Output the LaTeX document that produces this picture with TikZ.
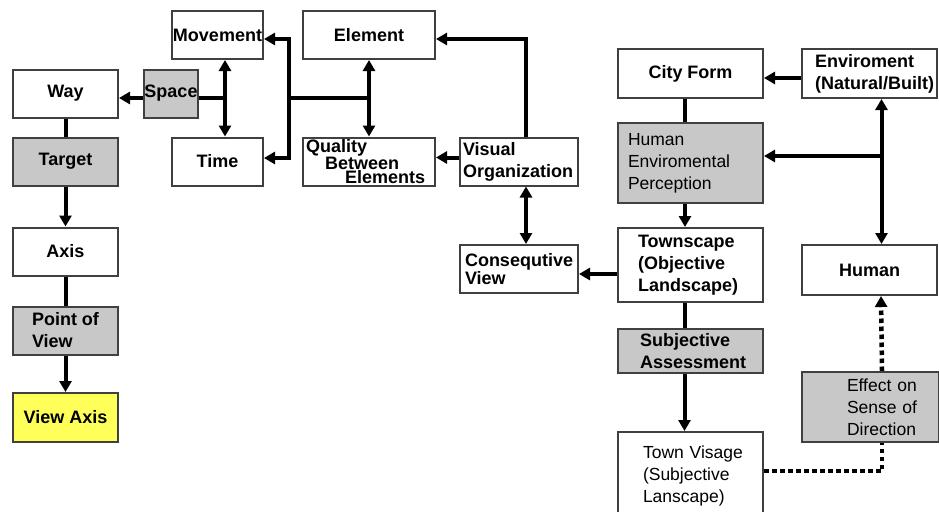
\documentclass[tikz,border=0pt]{standalone}
\usepackage{fontspec}
\setmainfont{Liberation Sans}
\usetikzlibrary{arrows.meta}

\definecolor{boxgray}{RGB}{200,200,200}
\definecolor{boxyellow}{RGB}{255,255,90}

\begin{document}
\begin{tikzpicture}[x=1pt,y=-1pt,
    box/.style={draw=black!75, line width=2pt, fill=white, inner sep=0pt,
      font=\fontsize{18}{22}\selectfont\bfseries},
    plain/.style={font=\fontsize{17.5}{22}\selectfont},
    grey/.style={fill=boxgray},
    link/.style={line width=4pt},
    arr/.style={link, -{Triangle[length=11pt,width=12pt]}},
    both/.style={link, {Triangle[length=11pt,width=12pt]}-{Triangle[length=11pt,width=12pt]}},
    dots/.style={line width=4.5pt, dash pattern=on 4.5pt off 3.5pt}]
        \useasboundingbox (0,0) rectangle (939,511);
        % left column
        \node[box, minimum width=105pt, minimum height=48pt] (way) at (65.5,93.5) {Way};
        \node[box, grey, minimum width=105pt, minimum height=48pt] (target) at (65.5,161.5) {Target};
        \node[box, minimum width=105pt, minimum height=48pt] (axis) at (65.5,251.5) {Axis};
        \node[box, grey, minimum width=105pt, minimum height=48pt, align=left] (pov) at (65.5,330.5) {Point of\\View};
        \node[box, fill=boxyellow, minimum width=105pt, minimum height=49pt] (viewaxis) at (65.5,417.5) {View Axis};
        \node[box, grey, minimum width=54pt, minimum height=48pt] (space) at (171,93.5) {Space};
        \node[box, minimum width=91pt, minimum height=48pt] (movement) at (217.5,35) {Movement};
        \node[box, minimum width=91pt, minimum height=48pt] (time) at (217.5,161.5) {Time};
        \node[box, minimum width=132pt, minimum height=48pt] (element) at (369,35) {Element};
        \node[box, minimum width=132pt, minimum height=48pt, inner xsep=3pt, text width=126pt, align=left,
          font=\fontsize{18}{14.5}\selectfont\bfseries] (quality) at (369,161.5)
          {Quality\\\hspace*{19pt}Between\\\hspace*{39pt}Elements};
        \node[box, minimum width=118pt, minimum height=48pt, inner xsep=3pt, text width=112pt, align=left] (vo) at (519,161.5) {Visual\\Organization};
        \node[box, minimum width=118pt, minimum height=48pt, inner xsep=5pt, text width=108pt, align=left,
          font=\fontsize{18}{14.5}\selectfont\bfseries] (conseq) at (519,269) {Consequtive\\View};
        % right part
        \node[box, minimum width=145pt, minimum height=49pt] (cityform) at (690.5,73.5) {City Form};
        \node[box, minimum width=135pt, minimum height=49pt, inner xsep=13pt, text width=109pt, align=left] (env) at (869.5,73.5) {Enviroment\\\mbox{(Natural/Built)}};
        \node[box, grey, plain, minimum width=145pt, minimum height=80pt, inner xsep=10pt, text width=125pt, align=left] (hep) at (690.5,163) {Human\\Enviromental\\Perception};
        \node[box, minimum width=145pt, minimum height=74pt, inner xsep=20pt, text width=105pt, align=left] (townscape) at (690.5,265) {Townscape\\(Objective\\Landscape)};
        \node[box, minimum width=135pt, minimum height=50pt] (human) at (869.5,270) {Human};
        \node[box, grey, minimum width=145pt, minimum height=44pt, inner xsep=22pt, text width=101pt, align=left] (subj) at (690.5,351) {Subjective\\Assessment};
        \node[box, grey, plain, minimum width=137pt, minimum height=70pt, inner xsep=45pt, text width=47pt, align=left] (effect) at (870.5,407) {\mbox{Effect on}\\\mbox{Sense of}\\\mbox{Direction}};
        \node[box, plain, minimum width=145pt, minimum height=88pt, inner xsep=25pt, text width=95pt, align=left] (visage) at (690.5,476) {\mbox{Town Visage}\\(Subjective\\Lanscape)};
        % connectors, left
        \draw[link] (way.south) -- (target.north);
        \draw[arr] (target.south) -- (axis.north);
        \draw[link] (axis.south) -- (pov.north);
        \draw[arr] (pov.south) -- (viewaxis.north);
        \coordinate (sj) at (225,98);
        \draw[arr] (space.west |- sj) -- (way.east |- sj);
        \draw[link] (space.east |- sj) -- (sj);
        \draw[both] (movement.south -| sj) -- (time.north -| sj);
        \coordinate (mt) at (289,39);
        \coordinate (tt) at (289,158);
        \coordinate (ej) at (289,98);
        \draw[both] (movement.east |- mt) -- (mt) -- (tt) -- (time.east |- tt);
        \draw[link] (ej) -- (element.south |- ej);
        \draw[both] (element.south) -- (quality.north);
        \coordinate (vt) at (526,39);
        \draw[arr] (vo.north -| vt) -- (vt) -- (element.east |- vt);
        \draw[arr] ([yshift=4pt]vo.west) -- ([yshift=4pt]quality.east);
        \draw[both] (vo.south -| vt) -- (conseq.north -| vt);
        \coordinate (cv) at ([yshift=-5pt]conseq.east);
        \draw[arr] (townscape.west |- cv) -- (cv);
        % connectors, right
        \draw[arr] ([yshift=-4.5pt]env.west) -- ([yshift=-4.5pt]cityform.east);
        \draw[link] ([xshift=-5.5pt]cityform.south) -- ([xshift=-5.5pt]hep.north);
        \draw[arr] ([xshift=-5.5pt]hep.south) -- ([xshift=-5.5pt]townscape.north);
        \draw[both] ([xshift=12pt]env.south) -- ([xshift=12pt]human.north);
        \coordinate (hj) at (882,156);
        \draw[arr] (hj) -- (hep.east |- hj);
        \draw[link] ([xshift=-6pt]townscape.south) -- ([xshift=-6pt]subj.north);
        \draw[arr] ([xshift=-6pt]subj.south) -- ([xshift=-6pt]visage.north);
        \coordinate (dv) at ([yshift=5pt]visage.east);
        \draw[dots] (dv) -| ([xshift=11.5pt]effect.south);
        \draw[dots, -{Triangle[length=11pt,width=12pt]}] ([xshift=11.5pt]effect.north) -- ([xshift=11.5pt]human.south);
    \end{tikzpicture}
\end{document}
